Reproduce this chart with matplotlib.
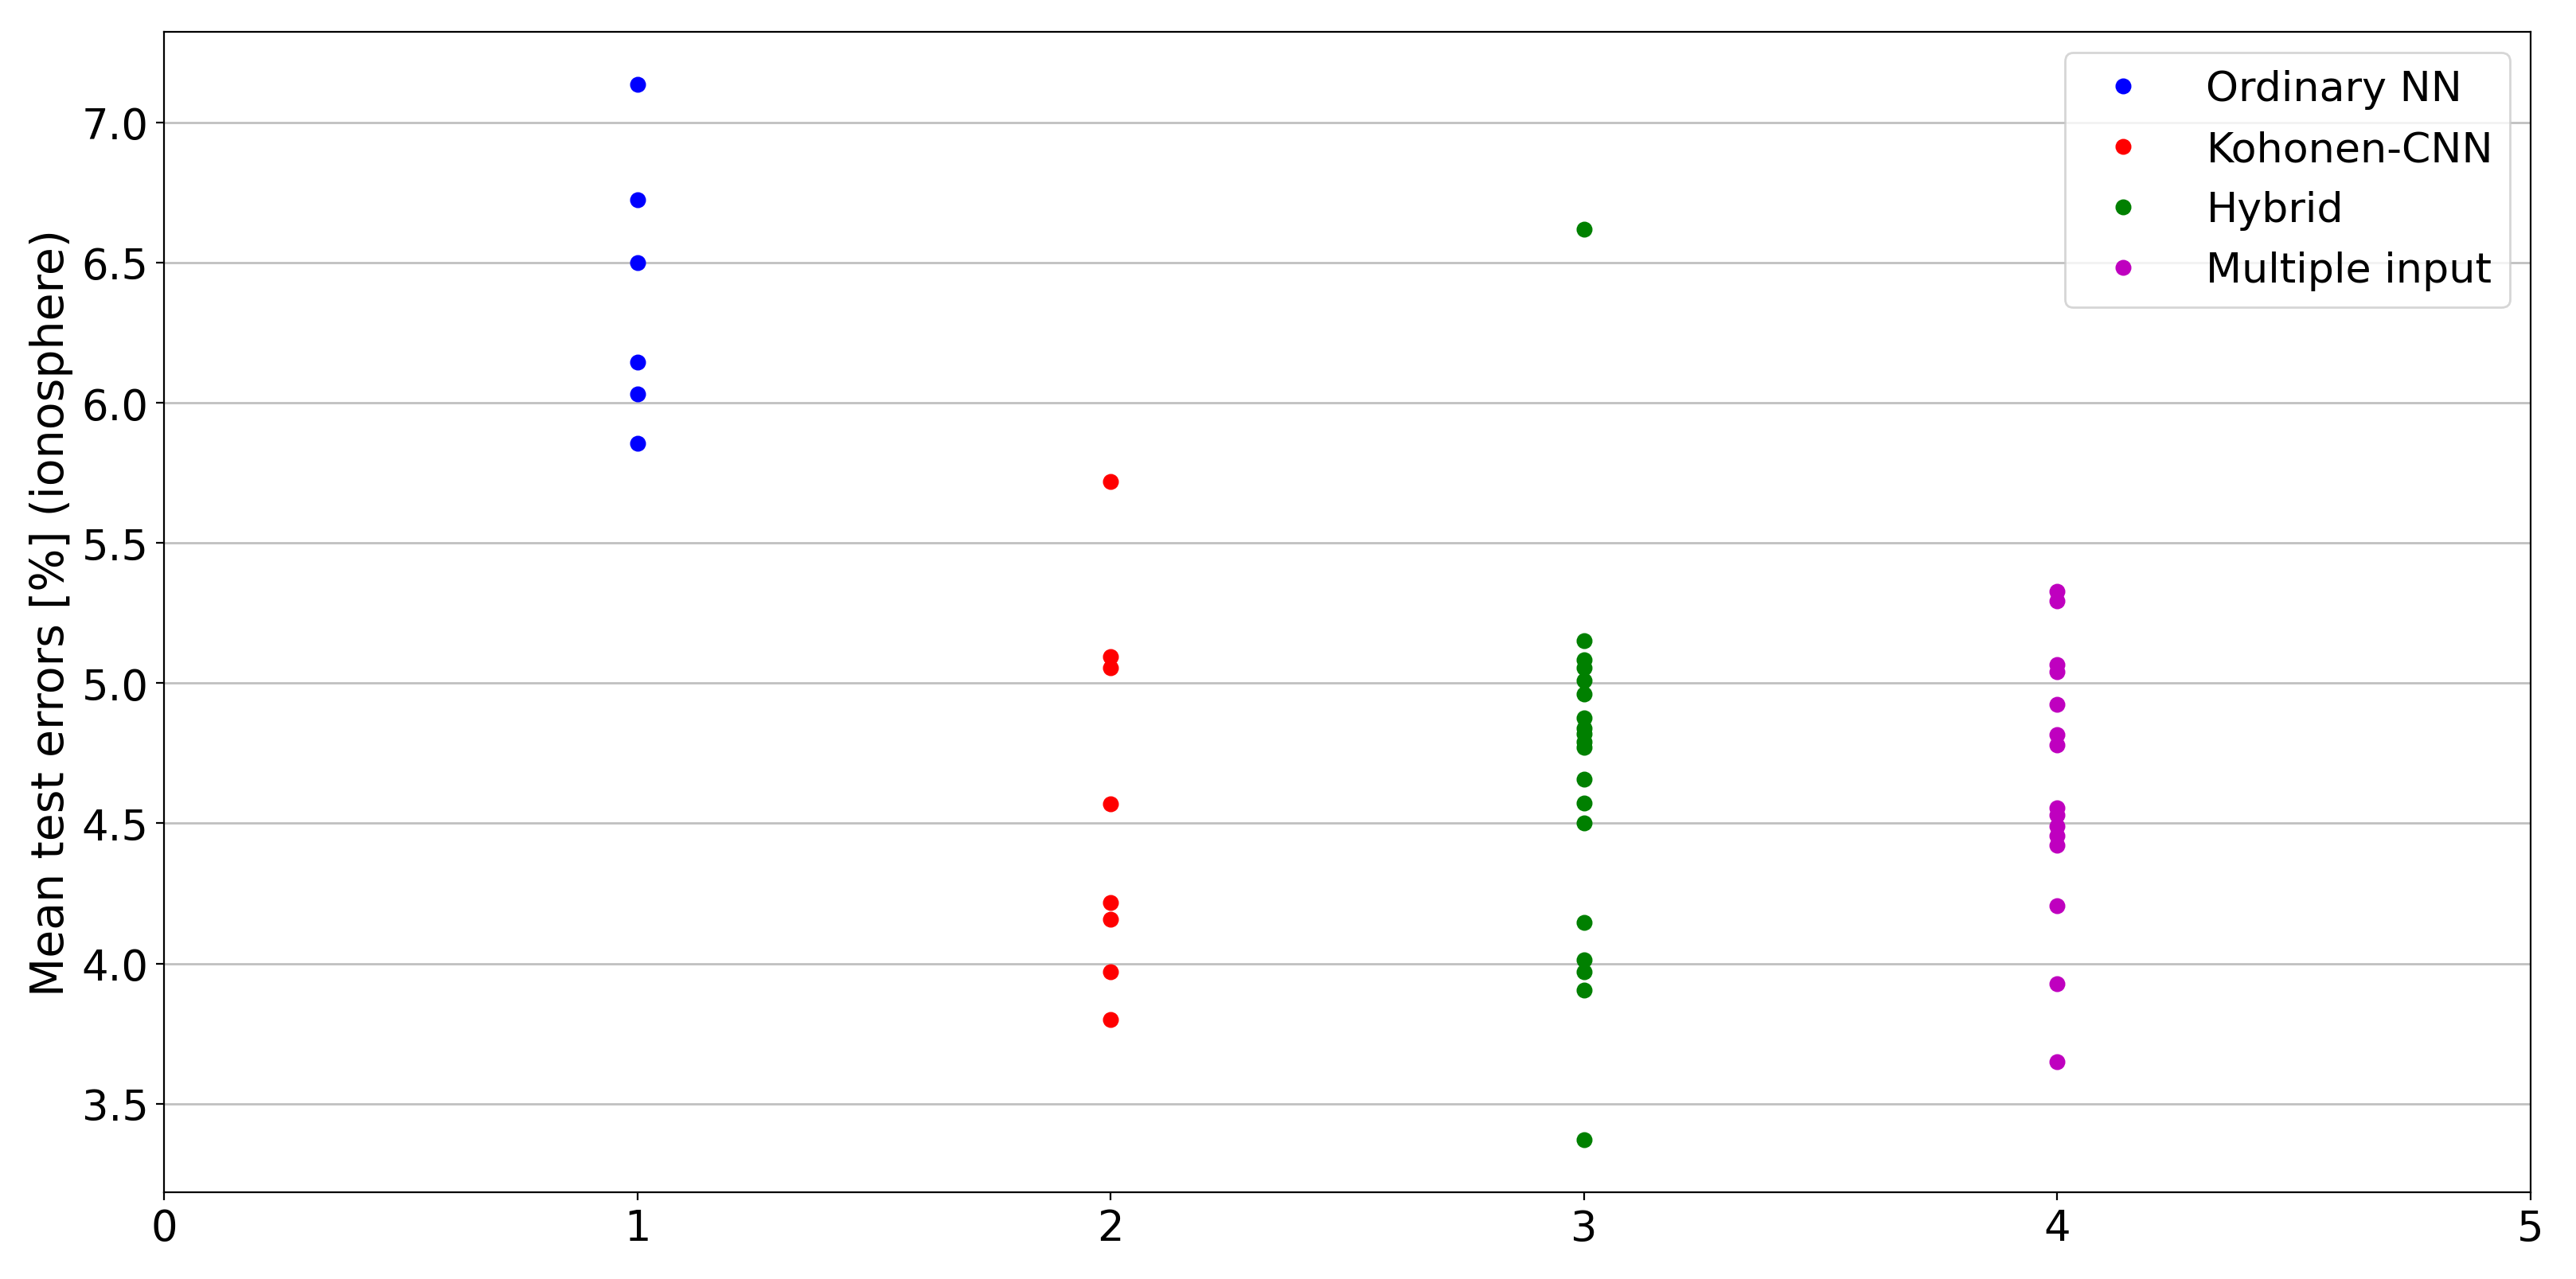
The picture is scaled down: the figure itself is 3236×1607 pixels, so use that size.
import matplotlib
matplotlib.use("Agg")
import matplotlib.pyplot as plt

labels = ["Ordinary NN", "Kohonen-CNN", "Hybrid", "Multiple input"]
colors = ["b", "r", "g", "m"]
positions = [1, 2, 3, 4]

ordinary_nn = [7.135, 6.724, 6.50, 6.146, 6.030, 5.855]
kohonen_cnn = [5.719, 5.095, 5.054, 4.568, 4.216, 4.158, 3.970, 3.801]
hybrid = [6.62, 5.152, 5.082, 5.054, 5.008, 4.962, 4.877, 4.84, 4.82, 4.79,
          4.77, 4.657, 4.573, 4.502, 4.147, 4.012, 3.970, 3.905, 3.372]
multiple_input = [5.327, 5.293, 5.065, 5.041, 4.924, 4.817, 4.779, 4.555,
                  4.530, 4.490, 4.457, 4.422, 4.207, 3.929, 3.650]

series = [ordinary_nn, kohonen_cnn, hybrid, multiple_input]

xticks = [0, 1, 2, 3, 4, 5]
yticks = [3.5, 4.0, 4.5, 5.0, 5.5, 6.0, 6.5, 7.0]

plt.rcParams['font.family'] = ['DejaVu Sans']
fig = plt.figure(figsize=(16.18, 8.04), dpi=200)
ax = fig.add_axes([0.0637, 0.0678, 0.9187, 0.9067])

for pos, vals, c, lab in zip(positions, series, colors, labels):
    ax.plot([pos] * len(vals), vals, 'o', color=c, markersize=6.2, label=lab,
            zorder=3)

ax.set_xlim(0, 5)
ax.set_xticks(xticks)
ax.set_yticks(yticks)
ax.yaxis.grid(True, color='#c0c0c0', linewidth=1.0)
ax.set_axisbelow(True)
ax.tick_params(labelsize=19)
ax.set_ylabel("Mean test errors [%] (ionosphere)", fontsize=20.5)
ax.legend(loc='upper right', fontsize=18.8, numpoints=1, handletextpad=1.0,
          labelspacing=0.5)

fig.savefig("out.png", dpi=200)
